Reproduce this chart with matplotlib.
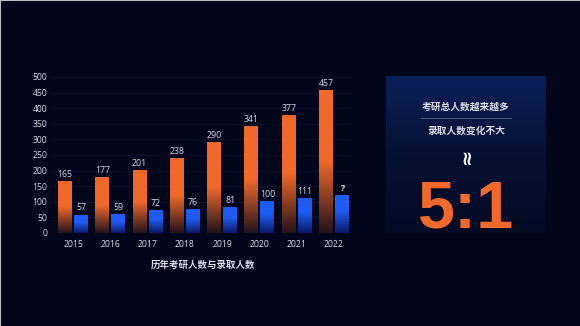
"""
Exam applicants vs admitted per year, dark dashboard style, with a 5:1 ratio panel.
"""

import matplotlib

matplotlib.use("Agg")
import matplotlib.pyplot as plt
import numpy as np
from matplotlib.colors import LinearSegmentedColormap

YEARS = ["2015", "2016", "2017", "2018", "2019", "2020", "2021", "2022"]
APPLICANTS = [165, 177, 201, 238, 290, 341, 377, 457]
ADMITTED = [57, 59, 72, 76, 81, 100, 111, 120]
ADMITTED_LABELS = ["57", "59", "72", "76", "81", "100", "111", "?"]
Y_TICKS = list(range(0, 501, 50))

TITLE = "历年考研人数与录取人数"
PANEL_LINE1 = "考研总人数越来越多"
PANEL_LINE2 = "录取人数变化不大"
PANEL_RATIO = "5:1"

BG = "#02061a"
ORANGE = "#f0682a"
ORANGE_DARK = "#22121c"
BLUE = "#1f5cf5"
BLUE_DARK = "#081a66"
TEXT = "#d8dbe4"
GRID = "#0d1533"

CJK = ["Noto Sans CJK SC", "DejaVu Sans"]

orange_cmap = LinearSegmentedColormap.from_list(
    "o", [(0.0, ORANGE_DARK), (0.5, ORANGE), (1.0, ORANGE)]
)
blue_cmap = LinearSegmentedColormap.from_list(
    "b", [(0.0, BLUE_DARK), (0.6, BLUE), (1.0, BLUE)]
)


def paint_gradient(ax, bars, cmap):
    grad = np.linspace(0, 1, 256).reshape(-1, 1)
    for bar in bars:
        x0, y0 = bar.get_xy()
        w, h = bar.get_width(), bar.get_height()
        ax.imshow(
            grad,
            extent=(x0, x0 + w, y0, y0 + h),
            origin="lower",
            aspect="auto",
            cmap=cmap,
            zorder=2,
            interpolation="bilinear",
        )


fig = plt.figure(figsize=(5.8, 3.26), dpi=100, facecolor=BG)

ax = fig.add_axes([53 / 580, 1 - 233 / 326, 300 / 580, 156 / 326])
ax.set_facecolor(BG)

x = np.arange(len(YEARS))
width = 0.375
bars_a = ax.bar(x - width / 2 - 0.027, APPLICANTS, width, color="none", zorder=3)
bars_b = ax.bar(x + width / 2 + 0.027, ADMITTED, width, color="none", zorder=3)
paint_gradient(ax, bars_a, orange_cmap)
paint_gradient(ax, bars_b, blue_cmap)

ax.bar_label(bars_a, labels=[str(v) for v in APPLICANTS], padding=2,
             color=TEXT, fontsize=6.3, family="Open Sans")
ax.bar_label(bars_b, labels=ADMITTED_LABELS, padding=2,
             color=TEXT, fontsize=6.3, family="Open Sans")
# the "?" is bold in the reference
ax.texts[-1].set_fontweight("bold")

ax.set_xlim(-0.54, 7.51)
ax.set_ylim(0, 500)
ax.set_yticks(Y_TICKS)
ax.set_xticks(x)
ax.set_xticklabels(YEARS)
ax.tick_params(axis="both", length=0, colors=TEXT, labelsize=6.2)
ax.tick_params(axis="y", pad=4)
ax.tick_params(axis="x", pad=5)
for lab in ax.get_xticklabels() + ax.get_yticklabels():
    lab.set_family("Open Sans")
ax.grid(axis="y", color=GRID, linewidth=0.6, zorder=0)
ax.set_axisbelow(True)
for s in ax.spines.values():
    s.set_visible(False)

fig.text(203 / 580, 1 - 265 / 326, TITLE, ha="center", va="center",
         color=TEXT, fontsize=6.8, fontweight="bold", family=CJK)

# right-hand summary panel
pax = fig.add_axes([386 / 580, 1 - 233 / 326, 160 / 580, 157 / 326])
pax.set_xlim(0, 160)
pax.set_ylim(157, 0)
pax.axis("off")
panel_cmap = LinearSegmentedColormap.from_list("p", ["#0c205a", "#061032", "#030a24"])
pax.imshow(np.linspace(0, 1, 256).reshape(-1, 1), extent=(0, 160, 157, 0),
           aspect="auto", cmap=panel_cmap, zorder=0)
pax.text(80, 31, PANEL_LINE1, ha="center", va="center", color=TEXT,
         fontsize=7, fontweight="bold", family=CJK, zorder=2)
pax.plot([35, 125], [42, 42], color="#5a6588", linewidth=0.6, zorder=2)
pax.text(80, 55, PANEL_LINE2, ha="center", va="center", color=TEXT,
         fontsize=7, fontweight="bold", family=CJK, zorder=2)
pax.text(80, 80, "≈", ha="center", va="center", color="white",
         fontsize=14, fontweight="bold", rotation=90, zorder=2)
pax.text(80, 152, PANEL_RATIO, ha="center", va="baseline", color=ORANGE,
         fontsize=48, fontweight="bold", family="Liberation Sans", zorder=2)

# thin light frame on the top and left edges of the screenshot
fig.add_artist(plt.Line2D([0, 1], [0.9985, 0.9985], color="#b8bcc6", linewidth=0.8))
fig.add_artist(plt.Line2D([0.0008, 0.0008], [0, 1], color="#b8bcc6", linewidth=0.8))

fig.savefig("out.png", dpi=100, facecolor=BG)
